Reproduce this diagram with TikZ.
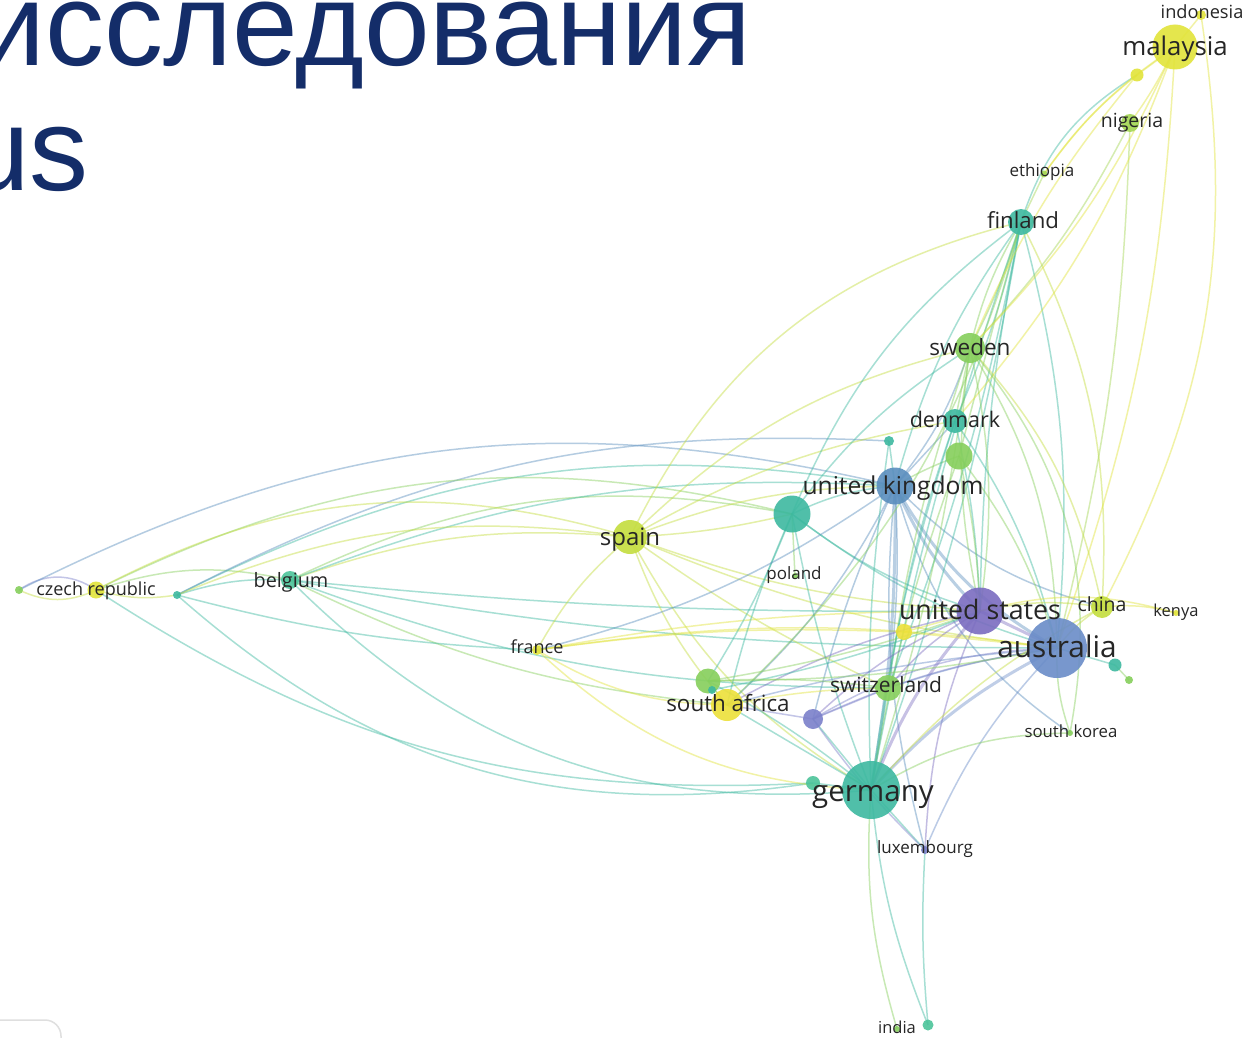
\documentclass[tikz,border=0pt]{standalone}
\usepackage{fontspec}
\newfontfamily\osans{Open Sans}
\newfontfamily\titlefont{Liberation Sans}
\usetikzlibrary{backgrounds}
\definecolor{cYel}{HTML}{E2E43A}
\definecolor{cYel2}{HTML}{EDE13A}
\definecolor{cLime}{HTML}{C4DD3E}
\definecolor{cLG}{HTML}{A4D653}
\definecolor{cGrn}{HTML}{86CF5C}
\definecolor{cTeal}{HTML}{3DB9A0}
\definecolor{cTeal2}{HTML}{4CC49A}
\definecolor{cBlue}{HTML}{5A8EBE}
\definecolor{cSteel}{HTML}{6A8CC8}
\definecolor{cPurp}{HTML}{7A6CC0}
\definecolor{cPurp2}{HTML}{7B80CA}
\definecolor{cTitle}{HTML}{142D69}
\definecolor{cText}{HTML}{262626}
\tikzset{
  nd/.style={circle, inner sep=0pt, minimum size=#1, fill opacity=0.9},
  lb/.style={font={\osans\fontsize{#1}{#1}\selectfont}, text=cText, inner sep=0pt, anchor=base},
  e/.style={line width=1.5pt, draw opacity=0.45, draw=#1},
  ew/.style={line width=3pt, draw opacity=0.42, draw=#1},
}
\begin{document}
\begin{tikzpicture}[x=1pt, y=-1pt]
\useasboundingbox (0,0) rectangle (1243,1038);
% title fragment
\begin{scope}
\clip (0,0) rectangle (1243,1038);
\node[anchor=base east, inner sep=0pt, text=cTitle, font={\titlefont\fontsize{118}{130}\selectfont}] (t1) at (752,66) {исследования};
\node[anchor=base east, inner sep=0pt, text=cTitle, font={\titlefont\fontsize{118}{130}\selectfont}] (t2) at (89,190) {Scopus};
\draw[gray!25, line width=1.5pt, rounded corners=16pt] (-10,1020) -- (61,1020) -- (61,1050);
\end{scope}

% nodes
\node[nd=10pt, fill=cYel] (ind) at (1201,15) {};
\node[nd=45pt, fill=cYel] (mal) at (1175,47) {};
\node[nd=13pt, fill=cYel] (my2) at (1137,75) {};
\node[nd=18pt, fill=cLG] (nig) at (1130,123) {};
\node[nd=7pt, fill=cLG] (eth) at (1044,174) {};
\node[nd=26pt, fill=cTeal] (fin) at (1021,222) {};
\node[nd=30pt, fill=cGrn] (swe) at (970,348) {};
\node[nd=24pt, fill=cTeal] (den) at (955,421) {};
\node[nd=10pt, fill=cTeal] (t889) at (889,441) {};
\node[nd=27pt, fill=cGrn] (g959) at (959,456) {};
\node[nd=37pt, fill=cBlue] (uk) at (895,486) {};
\node[nd=37pt, fill=cTeal] (t792) at (792,514) {};
\node[nd=34pt, fill=cLime] (spa) at (630,537) {};
\node[nd=6pt, fill=cGrn] (pol) at (795,576) {};
\node[nd=18pt, fill=cTeal2] (bel) at (290,580) {};
\node[nd=17pt, fill=cYel] (cze) at (96,590) {};
\node[nd=8pt, fill=cTeal] (t177) at (177,595) {};
\node[nd=8pt, fill=cGrn] (p19) at (19,590) {};
\node[nd=10pt, fill=cYel] (fra) at (537,650) {};
\node[nd=47pt, fill=cPurp] (usa) at (980,611) {};
\node[nd=16pt, fill=cYel2] (y904) at (904,632) {};
\node[nd=22pt, fill=cLime] (chn) at (1102,607) {};
\node[nd=6pt, fill=cYel] (ken) at (1176,613) {};
\node[nd=60pt, fill=cSteel] (aus) at (1057,648) {};
\node[nd=13pt, fill=cTeal] (t1115) at (1115,665) {};
\node[nd=8pt, fill=cGrn] (g1129) at (1129,680) {};
\node[nd=26pt, fill=cGrn] (swi) at (888,688) {};
\node[nd=25pt, fill=cGrn] (g708) at (708,681) {};
\node[nd=8pt, fill=cTeal] (t712) at (712,690) {};
\node[nd=32pt, fill=cYel2] (saf) at (727,705) {};
\node[nd=20pt, fill=cPurp2] (p813) at (813,719) {};
\node[nd=6pt, fill=cGrn] (kor) at (1070,733) {};
\node[nd=58pt, fill=cTeal] (ger) at (871,790) {};
\node[nd=14pt, fill=cTeal2] (t813) at (813,783) {};
\node[nd=8pt, fill=cPurp2] (lux) at (925,850) {};
\node[nd=11pt, fill=cTeal2] (india) at (928,1025) {};
\node[nd=6pt, fill=cGrn] (g897) at (897,1029) {};

% labels
\node[lb=18.2] (Lind) at (1202,19) {indonesia};
\node[lb=25.8] (Lmal) at (1175,56) {malaysia};
\node[lb=19.5] (Lnig) at (1132,128) {nigeria};
\node[lb=17] (Leth) at (1042,177) {ethiopia};
\node[lb=22.2] (Lfin) at (1023,229) {finland};
\node[lb=22.5] (Lswe) at (970,355) {sweden};
\node[lb=21.5] (Lden) at (955,427) {denmark};
\node[lb=24.6] (Luk) at (893,494) {united kingdom};
\node[lb=24] (Lspa) at (630,545) {spain};
\node[lb=17] (Lpol) at (794,579) {poland};
\node[lb=19.8] (Lbel) at (291,587) {belgium};
\node[lb=18] (Lcze) at (96,595) {czech republic};
\node[lb=18] (Lfra) at (537,653) {france};
\node[lb=26.8] (Lusa) at (980,619) {united states};
\node[lb=19.5] (Lchn) at (1102,611) {china};
\node[lb=16.5] (Lken) at (1176,616) {kenya};
\node[lb=29.8] (Laus) at (1057,657) {australia};
\node[lb=21] (Lswi) at (886,692) {switzerland};
\node[lb=22.4] (Lsaf) at (728,711) {south africa};
\node[lb=16.8] (Lkor) at (1071,737) {south korea};
\node[lb=29.5] (Lger) at (873,801) {germany};
\node[lb=17] (Llux) at (925,853) {luxembourg};
\node[lb=16.5] (Lindia) at (897,1033) {india};

\begin{pgfonlayer}{background}
\fill[white] (0,0) rectangle (1243,1038);
% left cluster
\draw[e=cPurp2] (p19.center) to[bend left=35] (cze.center);
\draw[e=cLime] (p19.center) to[bend right=25] (cze.center);
\draw[e=cLime] (cze.center) to[bend right=12] (t177.center);
\draw[e=cGrn] (cze.center) to[bend left=15] (bel.center);
\draw[e=cTeal] (t177.center) to[bend left=10] (bel.center);
\draw[e=cBlue] (p19.center) to[bend left=20] (uk.center);
\draw[e=cTeal] (t177.center) to[bend left=18] (uk.center);
\draw[e=cBlue] (t177.center) to[bend left=15] (t889.center);
\draw[e=cGrn] (cze.center) to[bend left=20] (t792.center);
\draw[e=cGrn] (bel.center) to[bend left=18] (t792.center);
\draw[e=cLime] (cze.center) to[bend left=22] (spa.center);
\draw[e=cLime] (bel.center) to[bend left=12] (spa.center);
\draw[e=cTeal] (bel.center) to[bend right=3] (usa.center);
\draw[e=cTeal] (bel.center) to[bend right=5] (aus.center);
\draw[e=cTeal] (bel.center) to[bend right=25] (ger.center);
\draw[e=cTeal] (t177.center) to[bend right=25] (t813.center);
\draw[e=cTeal] (cze.center) to[bend right=18] (t813.center);
\draw[e=cTeal] (bel.center) to[bend right=10] (swi.center);
\draw[e=cGrn] (bel.center) to[bend right=10] (saf.center);
\draw[e=cTeal] (bel.center) to[bend left=12] (uk.center);
\draw[e=cLime] (t177.center) to[bend left=15] (spa.center);
\draw[e=cTeal] (t177.center) to[bend right=6] (fra.center);
% spain
\draw[e=cLime] (spa.center) to[bend left=25] (fin.center);
\draw[e=cLime] (spa.center) to[bend left=10] (uk.center);
\draw[e=cLime] (spa.center) to[bend right=5] (t792.center);
\draw[e=cLime] (spa.center) to[bend right=8] (usa.center);
\draw[e=cLime] (spa.center) to[bend right=8] (aus.center);
\draw[e=cLime] (spa.center) to[bend right=15] (ger.center);
\draw[e=cLime] (spa.center) to[bend right=10] (saf.center);
\draw[e=cLime] (spa.center) to[bend left=15] (swe.center);
\draw[e=cLime] (spa.center) to[bend right=5] (swi.center);
\draw[e=cLime] (spa.center) to[bend right=10] (fra.center);
\draw[e=cLime] (spa.center) to[bend left=10] (den.center);
% france
\draw[e=cYel] (fra.center) to[bend right=15] (saf.center);
\draw[e=cYel] (fra.center) to[bend right=20] (ger.center);
\draw[e=cYel] (fra.center) to[bend left=5] (usa.center);
\draw[e=cYel] (fra.center) to[bend left=5] (y904.center);
\draw[e=cYel] (fra.center) to[bend left=8] (aus.center);
% t792
\draw[e=cTeal] (t792.center) to[bend right=5] (ger.center);
\draw[e=cTeal] (t792.center) to[bend left=5] (g708.center);
\draw[e=cTeal] (t792.center) to[bend left=10] (uk.center);
\draw[e=cTeal] (t792.center) to[bend right=10] (usa.center);
\draw[e=cTeal] (t792.center) to[bend right=10] (aus.center);
\draw[e=cTeal] (t792.center) to[bend left=15] (fin.center);
\draw[e=cTeal] (t792.center) to[bend left=10] (swe.center);
\draw[e=cTeal] (t792.center) to[bend right=5] (saf.center);
\draw[e=cGrn] (t792.center) -- (pol.center);
% uk
\draw[ew=cBlue] (uk.center) to[bend right=10] (usa.center);
\draw[ew=cBlue] (uk.center) to[bend right=15] (aus.center);
\draw[ew=cBlue] (uk.center) to[bend left=5] (ger.center);
\draw[e=cBlue] (uk.center) to[bend left=5] (swi.center);
\draw[e=cTeal] (uk.center) to[bend left=10] (fin.center);
\draw[e=cBlue] (uk.center) to[bend right=10] (swe.center);
\draw[e=cBlue] (uk.center) -- (den.center);
\draw[e=cGrn] (uk.center) to[bend left=5] (g959.center);
\draw[e=cTeal] (uk.center) -- (t889.center);
\draw[e=cBlue] (uk.center) to[bend left=10] (saf.center);
\draw[e=cBlue] (uk.center) to[bend right=5] (p813.center);
\draw[e=cBlue] (uk.center) to[bend right=15] (chn.center);
\draw[e=cBlue] (uk.center) to[bend right=10] (lux.center);
\draw[e=cBlue] (uk.center) to[bend right=20] (kor.center);
\draw[e=cBlue] (uk.center) to[bend left=10] (fra.center);
% finland and north
\draw[e=cGrn] (fin.center) to[bend left=5] (swe.center);
\draw[e=cGrn] (fin.center) to[bend right=8] (swe.center);
\draw[e=cTeal] (fin.center) to[bend left=5] (den.center);
\draw[e=cTeal] (fin.center) to[bend left=5] (ger.center);
\draw[e=cTeal] (fin.center) to[bend right=4] (ger.center);
\draw[e=cTeal] (fin.center) to[bend right=5] (usa.center);
\draw[e=cTeal] (fin.center) to[bend left=10] (aus.center);
\draw[e=cTeal] (fin.center) to[bend left=5] (swi.center);
\draw[e=cGrn] (fin.center) to[bend left=15] (saf.center);
\draw[e=cGrn] (fin.center) -- (g959.center);
\draw[e=cLime] (fin.center) to[bend left=15] (chn.center);
\draw[e=cTeal] (fin.center) to[bend left=20] (my2.center);
\draw[e=cLG] (fin.center) -- (eth.center);
\draw[e=cYel] (eth.center) to[bend left=10] (mal.center);
\draw[e=cYel] (eth.center) to[bend left=8] (my2.center);
\draw[e=cLG] (nig.center) to[bend left=6] (aus.center);
\draw[e=cLG] (nig.center) to[bend left=8] (swe.center);
\draw[e=cYel] (mal.center) to[bend left=5] (nig.center);
\draw[e=cYel] (mal.center) to[bend left=10] (swe.center);
\draw[e=cYel] (mal.center) to[bend left=10] (den.center);
\draw[e=cYel] (ind.center) to[bend left=18] (chn.center);
\draw[e=cYel] (ind.center) -- (mal.center);
\draw[e=cYel] (mal.center) -- (my2.center);
\draw[e=cYel] (my2.center) to[bend right=8] (swe.center);
\draw[e=cYel] (mal.center) to[bend left=8] (aus.center);
% sweden
\draw[e=cGrn] (swe.center) -- (den.center);
\draw[e=cGrn] (swe.center) to[bend left=10] (usa.center);
\draw[e=cGrn] (swe.center) to[bend right=10] (usa.center);
\draw[e=cGrn] (swe.center) to[bend left=15] (aus.center);
\draw[e=cGrn] (swe.center) to[bend left=5] (ger.center);
\draw[e=cGrn] (swe.center) to[bend right=5] (swi.center);
\draw[e=cLime] (swe.center) to[bend left=15] (chn.center);
\draw[e=cGrn] (swe.center) to[bend left=25] (kor.center);
% denmark etc.
\draw[e=cTeal] (den.center) to[bend right=5] (ger.center);
\draw[e=cTeal] (den.center) to[bend left=5] (usa.center);
\draw[e=cTeal] (den.center) to[bend left=10] (aus.center);
\draw[e=cTeal] (den.center) to[bend right=5] (swi.center);
\draw[e=cGrn] (g959.center) to[bend right=5] (ger.center);
\draw[e=cGrn] (g959.center) to[bend left=5] (usa.center);
\draw[e=cGrn] (g959.center) to[bend left=10] (aus.center);
\draw[e=cTeal] (t889.center) to[bend right=5] (ger.center);
% usa
\draw[ew=cPurp] (usa.center) -- (aus.center);
\draw[ew=cPurp] (usa.center) to[bend right=10] (ger.center);
\draw[e=cPurp] (usa.center) to[bend right=10] (swi.center);
\draw[e=cPurp] (usa.center) to[bend right=10] (p813.center);
\draw[e=cLime] (usa.center) to[bend left=10] (chn.center);
\draw[e=cYel] (usa.center) to[bend left=15] (ken.center);
\draw[e=cPurp] (usa.center) to[bend right=8] (saf.center);
\draw[e=cYel] (usa.center) -- (y904.center);
\draw[e=cPurp] (usa.center) to[bend right=10] (lux.center);
\draw[e=cGrn] (usa.center) to[bend left=5] (g708.center);
\draw[e=cTeal] (usa.center) to[bend left=5] (t712.center);
% australia
\draw[ew=cSteel] (aus.center) to[bend right=10] (ger.center);
\draw[e=cLime] (aus.center) to[bend left=10] (chn.center);
\draw[e=cTeal] (aus.center) -- (t1115.center);
\draw[e=cGrn] (t1115.center) -- (g1129.center);
\draw[e=cGrn] (aus.center) to[bend right=10] (kor.center);
\draw[e=cSteel] (aus.center) to[bend right=5] (swi.center);
\draw[e=cSteel] (aus.center) to[bend right=5] (saf.center);
\draw[e=cPurp2] (aus.center) to[bend right=8] (p813.center);
\draw[e=cPurp2] (aus.center) to[bend right=14] (p813.center);
\draw[e=cGrn] (aus.center) to[bend left=5] (g708.center);
\draw[e=cSteel] (aus.center) to[bend right=10] (lux.center);
\draw[e=cYel] (aus.center) -- (y904.center);
\draw[e=cYel] (chn.center) to[bend left=10] (ken.center);
% germany
\draw[e=cTeal] (ger.center) -- (lux.center);
\draw[e=cTeal] (ger.center) to[bend right=8] (india.center);
\draw[e=cTeal] (lux.center) to[bend right=4] (india.center);
\draw[e=cGrn] (ger.center) to[bend right=10] (g897.center);
\draw[e=cTeal] (ger.center) -- (swi.center);
\draw[e=cTeal] (ger.center) -- (saf.center);
\draw[e=cTeal] (ger.center) -- (p813.center);
\draw[e=cTeal] (ger.center) -- (t813.center);
\draw[e=cTeal] (ger.center) to[bend right=5] (g708.center);
\draw[e=cLime] (ger.center) to[bend left=10] (chn.center);
\draw[e=cGrn] (ger.center) to[bend left=15] (kor.center);
% south africa
\draw[e=cGrn] (saf.center) -- (g708.center);
\draw[e=cYel] (saf.center) to[bend left=5] (swi.center);
\draw[e=cPurp2] (saf.center) -- (p813.center);
\draw[e=cGrn] (g708.center) to[bend left=5] (swi.center);
\draw[e=cPurp2] (p813.center) -- (swi.center);
\draw[e=cPurp2] (p813.center) to[bend right=5] (lux.center);
\end{pgfonlayer}
\end{tikzpicture}
\end{document}
